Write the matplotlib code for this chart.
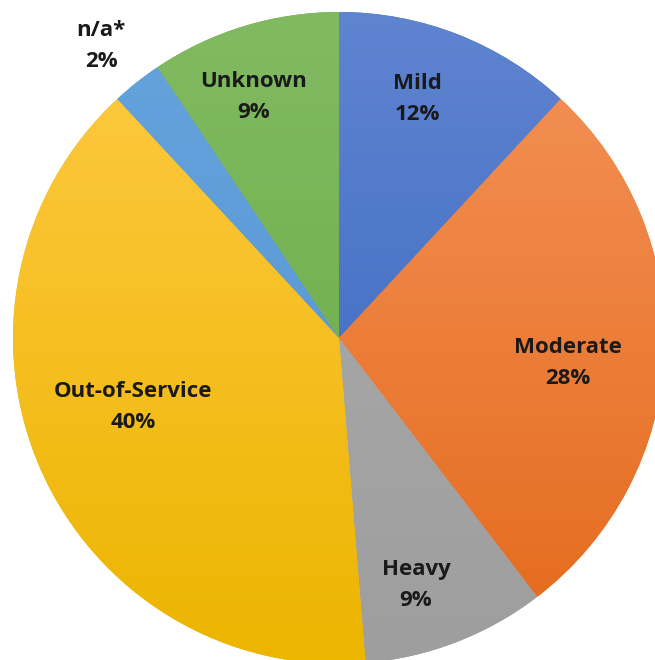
import matplotlib.pyplot as plt
import numpy as np
from matplotlib.colors import LinearSegmentedColormap

# Datos del gráfico (sentido horario desde las 12)
categorias = ['Mild', 'Moderate', 'Heavy', 'Out-of-Service', 'n/a*', 'Unknown']
valores = [11.9, 27.7, 9.1, 39.4, 2.5, 9.4]
etiquetas_pct = ['12%', '28%', '9%', '40%', '2%', '9%']

# colores (arriba, abajo) para el degradado vertical
colores = [('#5f84d0', '#3463be'),
           ('#f4935a', '#e4691a'),
           ('#adadad', '#9e9e9e'),
           ('#ffca45', '#ecb500'),
           ('#64a3dc', '#5593d0'),
           ('#82ba62', '#66a93f')]

# posiciones de etiquetas en pixeles (x, y desde arriba)
pos_etiquetas = [(417, 99), (568, 363), (416, 585), (133, 407), (101, 46), (254, 97)]

W, H = 655, 660
cx, cy, r = 339, H - 338, 326

fig = plt.figure(figsize=(W / 100, H / 100), dpi=100)
ax = fig.add_axes([0, 0, 1, 1])

wedges, _ = ax.pie(valores, startangle=90, counterclock=False,
                   center=(cx, cy), radius=r, colors=[c[1] for c in colores],
                   wedgeprops=dict(linewidth=0))

grad = np.linspace(1, 0, 256).reshape(-1, 1)
for w, (c_top, c_bot) in zip(wedges, colores):
    cmap = LinearSegmentedColormap.from_list('g', [c_bot, c_top])
    im = ax.imshow(grad, cmap=cmap, extent=(cx - r, cx + r, cy - r, cy + r),
                   aspect='auto', origin='upper', zorder=2)
    im.set_clip_path(w)

for cat, pct, (px, py) in zip(categorias, etiquetas_pct, pos_etiquetas):
    ax.text(px, H - py, cat + '\n' + pct, ha='center', va='center',
            fontsize=16, fontweight='bold', family='Open Sans',
            color='#1a1a1a', linespacing=1.6, zorder=5)

ax.set_xlim(0, W)
ax.set_ylim(0, H)
ax.set_aspect('equal')
ax.axis('off')

fig.savefig('out.png', dpi=100, facecolor='white')
